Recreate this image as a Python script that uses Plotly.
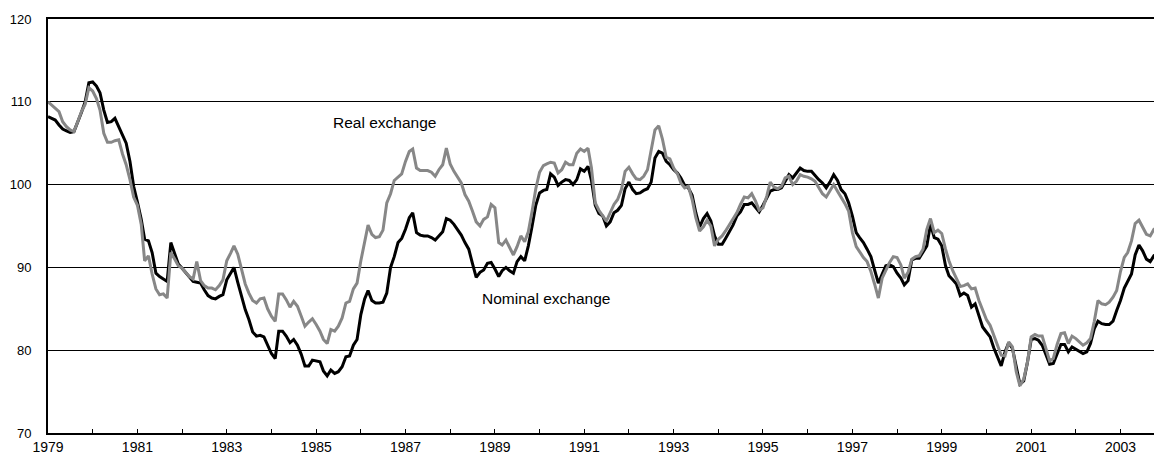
import pandas as pd
import plotly.graph_objects as go

# Monthly index values, January 1979 - November 2003
nominal_exchange = [
    108.2, 108.0, 107.8, 107.2, 106.7, 106.5, 106.3, 106.4, 107.5, 108.7, 110.0, 112.3,  # 1979
    112.4, 111.9, 111.1, 109.0, 107.5, 107.6, 108.0, 107.0, 105.8, 105.0, 102.8, 99.8,   # 1980
    97.9, 95.8, 93.4, 93.2, 91.8, 89.3, 88.9, 88.6, 88.3, 93.0, 91.8, 90.4,              # 1981
    89.9, 89.3, 88.9, 88.3, 88.2, 88.1, 87.3, 86.6, 86.3, 86.2, 86.5, 86.7,              # 1982
    88.5, 89.3, 90.0, 88.2, 86.5, 84.9, 83.7, 82.2, 81.7, 81.8, 81.6, 80.6,              # 1983
    79.6, 79.0, 82.3, 82.3, 81.7, 80.9, 81.3, 80.6, 79.5, 78.1, 78.1, 78.8,              # 1984
    78.7, 78.6, 77.5, 76.9, 77.6, 77.2, 77.4, 78.0, 79.2, 79.3, 80.6, 81.3,              # 1985
    84.3, 86.2, 87.2, 86.0, 85.7, 85.7, 85.8, 86.9, 90.0, 91.3, 93.0, 93.5,              # 1986
    94.6, 96.0, 96.6, 94.2, 93.9, 93.8, 93.8, 93.6, 93.3, 93.8, 94.3, 95.9,              # 1987
    95.7, 95.2, 94.5, 93.9, 93.0, 92.2, 90.5, 88.8, 89.4, 89.7, 90.5, 90.6,              # 1988
    89.8, 88.9, 89.6, 90.0, 89.6, 89.3, 90.7, 91.3, 90.8, 92.6, 95.0, 97.5,              # 1989
    99.0, 99.3, 99.4, 101.3, 100.9, 99.9, 100.3, 100.6, 100.5, 100.0, 100.6, 101.9,      # 1990
    101.6, 102.2, 100.5, 97.5, 96.5, 96.2, 95.0, 95.5, 96.6, 96.9, 97.5, 99.5,           # 1991
    100.3, 99.4, 98.9, 99.0, 99.3, 99.5, 100.3, 103.2, 104.0, 103.8, 102.8, 102.4,       # 1992
    101.8, 101.4, 100.8, 99.9, 99.6, 98.7, 96.6, 94.9, 95.9, 96.5, 95.6, 93.8,           # 1993
    92.8, 92.8, 93.5, 94.3, 95.1, 96.2, 96.7, 97.6, 97.6, 97.8, 97.3, 96.7,              # 1994
    97.5, 98.4, 99.2, 99.4, 99.4, 99.6, 100.4, 101.2, 100.8, 101.4, 102.0, 101.7,        # 1995
    101.6, 101.6, 101.1, 100.6, 100.2, 99.6, 100.3, 101.2, 100.5, 99.4, 98.9, 97.8,      # 1996
    96.2, 94.2, 93.6, 93.0, 92.2, 91.3, 89.7, 88.1, 89.2, 90.2, 90.3, 90.1,              # 1997
    89.3, 88.7, 87.9, 88.4, 90.9, 91.1, 91.1, 91.8, 92.6, 95.2, 93.6, 93.4,              # 1998
    92.6, 90.2, 89.0, 88.5, 88.0, 86.6, 86.9, 86.6, 85.2, 85.6, 84.3, 82.8,              # 1999
    82.2, 81.6, 80.3, 79.1, 78.1, 79.8, 80.9, 80.2, 77.8, 75.9, 76.3, 78.5,              # 2000
    81.3, 81.4, 81.2, 80.6, 79.5, 78.3, 78.4, 79.6, 80.7, 80.7, 79.8, 80.4,              # 2001
    80.1, 79.9, 79.6, 79.8, 80.8, 82.6, 83.5, 83.2, 83.1, 83.1, 83.5, 84.8,              # 2002
    86.0, 87.5, 88.4, 89.2, 91.5, 92.7, 92.0, 91.0, 90.7, 91.4, 91.3,                    # 2003
]

real_exchange = [
    110.0, 109.6, 109.3, 108.8, 107.6, 107.0, 106.6, 106.4, 107.6, 108.8, 109.7, 111.7,  # 1979
    111.3, 110.4, 109.0, 106.2, 105.1, 105.1, 105.3, 105.4, 103.7, 102.4, 100.6, 98.5,   # 1980
    97.5, 95.2, 90.8, 91.4, 89.2, 87.4, 86.7, 86.8, 86.3, 91.8, 91.0, 90.2,              # 1981
    89.9, 89.3, 88.9, 88.6, 90.7, 88.4, 87.8, 87.5, 87.5, 87.3, 87.8, 88.5,              # 1982
    90.8, 91.7, 92.6, 91.6, 89.8, 88.0, 86.9, 86.0, 85.7, 86.2, 86.3, 85.0,              # 1983
    84.1, 83.5, 86.8, 86.8, 86.1, 85.2, 85.9, 85.3, 84.1, 82.9, 83.4, 83.8,              # 1984
    83.1, 82.3, 81.3, 80.8, 82.5, 82.3, 82.9, 83.9, 85.7, 85.9, 87.4, 88.1,              # 1985
    90.8, 93.2, 95.1, 94.0, 93.6, 93.7, 94.5, 97.8, 98.9, 100.5, 100.9, 101.3,           # 1986
    102.8, 104.0, 104.3, 102.0, 101.7, 101.7, 101.7, 101.5, 101.0, 101.8, 102.4, 104.4,  # 1987
    102.5, 101.6, 100.9, 100.2, 98.8, 98.0, 96.8, 95.5, 95.0, 95.8, 96.1, 97.6,          # 1988
    97.2, 93.0, 92.7, 93.3, 92.4, 91.5, 92.5, 93.8, 93.1, 94.3, 96.8, 99.5,              # 1989
    101.5, 102.3, 102.5, 102.7, 102.6, 101.4, 101.8, 102.7, 102.4, 102.4, 103.8, 104.3,  # 1990
    104.0, 104.4, 102.0, 97.8, 96.9, 96.3, 95.6, 96.6, 97.6, 98.2, 99.4, 101.6,          # 1991
    102.1, 101.3, 100.7, 100.6, 101.0, 101.8, 104.2, 106.6, 107.1, 105.5, 103.3, 103.1,  # 1992
    102.0, 101.3, 100.2, 99.6, 99.8, 98.2, 96.0, 94.4, 94.9, 95.7, 95.0, 92.6,           # 1993
    93.4, 93.8, 94.4, 95.1, 95.9, 96.6, 97.6, 98.5, 98.4, 98.9, 98.0, 96.9,              # 1994
    97.2, 98.6, 100.3, 99.7, 99.5, 99.8, 100.8, 101.0, 100.0, 100.4, 101.2, 101.0,       # 1995
    100.9, 100.7, 100.4, 99.7, 98.9, 98.5, 99.3, 100.0, 99.2, 98.5, 97.7, 96.8,          # 1996
    94.2, 92.5, 91.8, 91.2, 90.7, 89.5, 88.0, 86.3, 88.7, 89.7, 90.6, 91.3,              # 1997
    91.2, 90.3, 88.7, 89.4, 91.0, 91.3, 91.4, 92.2, 94.6, 95.9, 94.2, 94.5,              # 1998
    94.1, 92.2, 90.8, 89.6, 88.6, 87.7, 87.8, 88.0, 87.4, 87.5, 86.0, 84.8,              # 1999
    83.7, 83.0, 81.8, 80.6, 79.4, 79.3, 81.0, 80.4, 77.4, 75.7, 76.5, 78.5,              # 2000
    81.6, 81.9, 81.7, 81.7, 80.1, 78.7, 79.0, 80.7, 82.0, 82.1, 80.8, 81.7,              # 2001
    81.4, 81.0, 80.6, 80.9, 81.4, 83.5, 86.0, 85.6, 85.5, 85.8, 86.4, 87.2,              # 2002
    89.5, 91.2, 91.8, 93.2, 95.3, 95.7, 94.8, 94.0, 93.8, 94.6, 94.9,                    # 2003
]

start_month = "1979-01-01"
months = pd.date_range(start_month, periods=len(nominal_exchange), freq="MS")

y_ticks = [70, 80, 90, 100, 110, 120]

FONT = "Arial, 'Liberation Sans', sans-serif"

fig = go.Figure()
fig.add_trace(go.Scatter(
    x=months, y=nominal_exchange, mode="lines", name="Nominal exchange",
    line=dict(color="#000000", width=3), showlegend=False,
))
fig.add_trace(go.Scatter(
    x=months, y=real_exchange, mode="lines", name="Real exchange",
    line=dict(color="#878787", width=3), showlegend=False,
))

fig.add_annotation(x="1985-05-05", y=107.5, text="Real exchange", showarrow=False,
                   xanchor="left", yanchor="middle",
                   font=dict(family=FONT, size=15.5, color="#000000"))
fig.add_annotation(x="1988-09-01", y=86.2, text="Nominal exchange", showarrow=False,
                   xanchor="left", yanchor="middle",
                   font=dict(family=FONT, size=15.5, color="#000000"))

# The page body has an 8px default margin; size the figure to compensate.
fig.update_layout(
    width=1154, height=454, autosize=False,
    margin=dict(l=37, r=2, t=11, b=29),
    paper_bgcolor="white", plot_bgcolor="white",
    font=dict(family=FONT, size=13, color="#000000"),
    showlegend=False,
)
fig.update_xaxes(
    type="date",
    range=["1979-01-01", "2003-11-20"],
    tick0="1979-01-01", dtick="M24", tickformat="%Y",
    ticks="inside", ticklen=4, tickcolor="#000000", tickwidth=1,
    minor=dict(dtick="M12", tick0="1979-01-01", ticks="inside", ticklen=4,
               tickcolor="#000000", tickwidth=1, showgrid=False),
    showgrid=False, zeroline=False,
    showline=True, linecolor="#000000", linewidth=2, mirror=True,
    tickfont=dict(family=FONT, size=14, color="#000000"),
)
fig.update_yaxes(
    range=[70, 120], tickvals=y_ticks, ticktext=[str(v) for v in y_ticks],
    showgrid=True, gridcolor="#000000", gridwidth=1,
    zeroline=False, ticks="", ticklabelstandoff=12,
    showline=True, linecolor="#000000", linewidth=2,
    tickfont=dict(family=FONT, size=13, color="#000000"),
)

fig.write_html("out.html")
